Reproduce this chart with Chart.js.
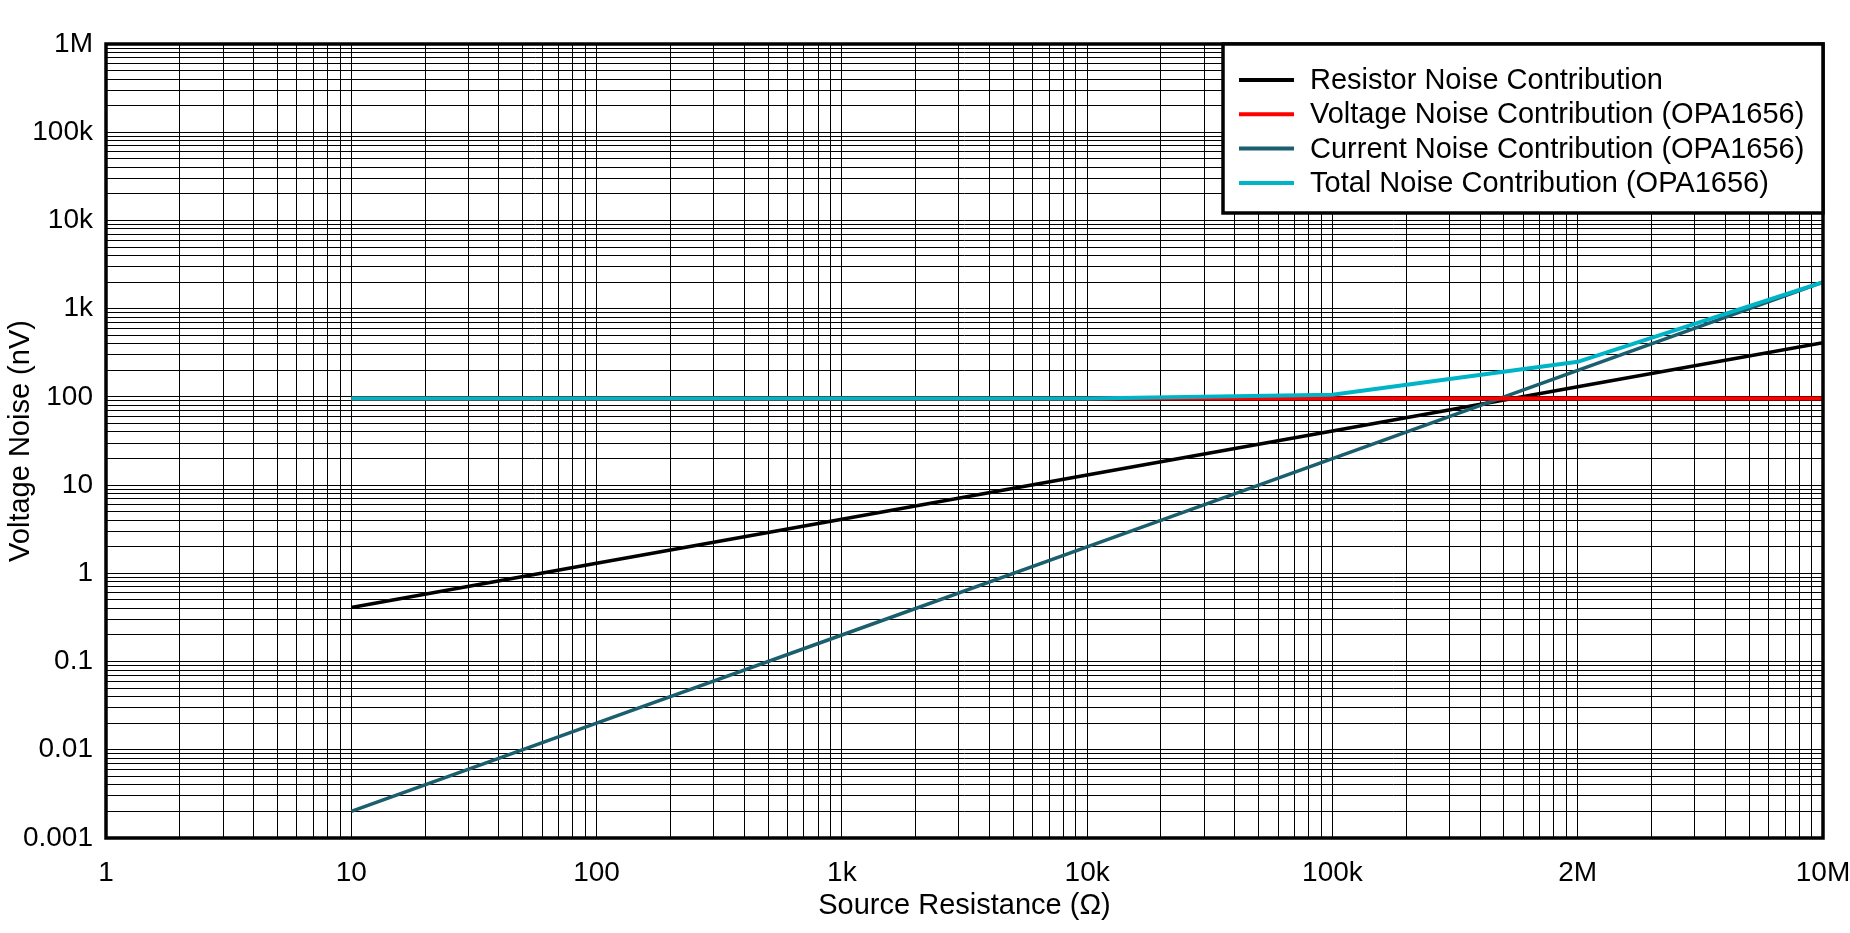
<!DOCTYPE html>
<html>
<head>
<meta charset="utf-8">
<script src="https://cdn.jsdelivr.net/npm/chart.js@4/dist/chart.umd.min.js"></script>
<style>
  html, body { margin: 0; padding: 0; background: #ffffff; }
  #wrap { width: 1850px; height: 933px; position: relative; }
</style>
</head>
<body>
<div id="wrap"><canvas id="c" width="1850" height="933"></canvas></div>
<script>
// ---- data ----
const resistance     = [10, 100, 1e3, 1e4, 1e5, 1e6, 1e7];
const resistorNoise  = [0.41, 1.3, 4.1, 13, 41, 130, 410];
const voltageNoise   = [96, 96, 96, 96, 96, 96, 96];
const currentNoise   = [0.002, 0.02, 0.2, 2, 20, 200, 2000];
const totalNoise     = [96, 96, 96, 96, 106, 250, 2000];

const seriesLabels = [
  'Resistor Noise Contribution',
  'Voltage Noise Contribution (OPA1656)',
  'Current Noise Contribution (OPA1656)',
  'Total Noise Contribution (OPA1656)'
];

const xTickValues = [1, 10, 100, 1e3, 1e4, 1e5, 1e6, 1e7];
const xTickLabels = ['1', '10', '100', '1k', '10k', '100k', '2M', '10M'];
const yTickValues = [0.001, 0.01, 0.1, 1, 10, 100, 1e3, 1e4, 1e5, 1e6];
const yTickLabels = ['0.001', '0.01', '0.1', '1', '10', '100', '1k', '10k', '100k', '1M'];

// ---- helpers ----
function pts(xs, ys) { return xs.map((x, i) => ({ x: x, y: ys[i] })); }
function gridTicks(decades) {
  const out = [];
  for (let d = 0; d < decades.length - 1; d++) {
    for (let m = 1; m <= 9; m++) out.push(m * decades[d]);
  }
  out.push(decades[decades.length - 1]);
  return out;
}
function labelFor(values, labels, v) {
  for (let i = 0; i < values.length; i++) {
    if (Math.abs(v - values[i]) / values[i] < 1e-9) return labels[i];
  }
  return '';
}

const FONT = '"Liberation Sans", Arial, Helvetica, sans-serif';

const frame = {
  id: 'frame',
  afterDatasetsDraw(chart) {
    const a = chart.chartArea, ctx = chart.ctx;
    ctx.save();
    ctx.strokeStyle = '#000';
    ctx.lineWidth = 3.5;
    ctx.strokeRect(a.left, a.top, a.right - a.left, a.bottom - a.top);
    ctx.restore();
  },
  afterDraw(chart) {
    const a = chart.chartArea, ctx = chart.ctx;
    const w = 600, h = 169;
    const bx = a.right - w, by = a.top;
    ctx.save();
    ctx.fillStyle = '#fff';
    ctx.fillRect(bx, by, w, h);
    ctx.strokeStyle = '#000';
    ctx.lineWidth = 3.5;
    ctx.strokeRect(bx, by, w, h);
    ctx.font = '29px ' + FONT;
    ctx.textBaseline = 'middle';
    ctx.fillStyle = '#000';
    chart.data.datasets.forEach((ds, i) => {
      const y = by + 36 + i * 34.3;
      ctx.strokeStyle = ds.borderColor;
      ctx.lineWidth = 4;
      ctx.beginPath();
      ctx.moveTo(bx + 16, y);
      ctx.lineTo(bx + 71, y);
      ctx.stroke();
      ctx.fillText(ds.label, bx + 87, y + 1);
    });
    ctx.restore();
  }
};

new Chart(document.getElementById('c'), {
  type: 'line',
  data: {
    datasets: [
      { label: seriesLabels[0], data: pts(resistance, resistorNoise), borderColor: '#000000', borderWidth: 3.5, order: 4 },
      { label: seriesLabels[1], data: pts(resistance, voltageNoise), borderColor: '#ff0000', borderWidth: 4, order: 2 },
      { label: seriesLabels[2], data: pts(resistance, currentNoise), borderColor: '#1b5e6e', borderWidth: 3.5, order: 3 },
      { label: seriesLabels[3], data: pts(resistance, totalNoise), borderColor: '#00b4c8', borderWidth: 4, order: 1 }
    ]
  },
  options: {
    responsive: false,
    animation: false,
    devicePixelRatio: 1,
    elements: { point: { radius: 0 }, line: { tension: 0 } },
    layout: { padding: { top: 44, right: 27, left: 0, bottom: 0 } },
    plugins: { legend: { display: false }, tooltip: { enabled: false } },
    scales: {
      x: {
        type: 'logarithmic',
        min: 1, max: 1e7,
        border: { display: false },
        grid: { color: '#000', lineWidth: 1, drawTicks: false },
        afterBuildTicks: (s) => { s.ticks = gridTicks(xTickValues).map(v => ({ value: v })); },
        afterFit: (s) => { s.height = 95; s.paddingLeft = 0; s.paddingRight = 0; s.paddingTop = 0; s.paddingBottom = 0; },
        ticks: {
          autoSkip: false, maxRotation: 0, minRotation: 0, padding: 18,
          color: '#000', font: { family: FONT, size: 28 },
          callback: (v) => labelFor(xTickValues, xTickLabels, v)
        },
        title: {
          display: true, text: 'Source Resistance (Ω)', color: '#000',
          font: { family: FONT, size: 29 }, padding: { top: 0, bottom: 10 }
        }
      },
      y: {
        type: 'logarithmic',
        min: 0.001, max: 1e6,
        border: { display: false },
        grid: { color: '#000', lineWidth: 1, drawTicks: false },
        afterBuildTicks: (s) => { s.ticks = gridTicks(yTickValues).map(v => ({ value: v })); },
        afterFit: (s) => { s.width = 106; s.paddingLeft = 0; s.paddingRight = 0; s.paddingTop = 0; s.paddingBottom = 0; },
        ticks: {
          autoSkip: false, padding: 13,
          color: '#000', font: { family: FONT, size: 28 },
          callback: (v) => labelFor(yTickValues, yTickLabels, v)
        },
        title: {
          display: true, text: 'Voltage Noise (nV)', color: '#000',
          font: { family: FONT, size: 29 }, padding: { top: 4, bottom: 0 }
        }
      }
    }
  },
  plugins: [frame]
});
</script>
</body>
</html>
